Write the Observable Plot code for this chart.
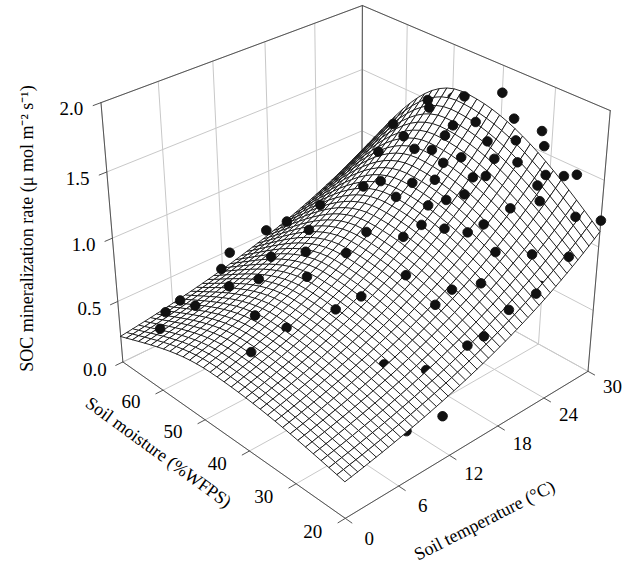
<!DOCTYPE html>
<html>
<head>
<meta charset="utf-8">
<script src="https://cdn.jsdelivr.net/npm/d3@7"></script>
<script src="https://cdn.jsdelivr.net/npm/@observablehq/plot@0.6"></script>
<style>
  body { margin: 0; background: #fff; }
</style>
</head>
<body>
<div id="chart"></div>
<script>
// axis ticks
const tempTicks = [0, 6, 12, 18, 24, 30];
const moistTicks = [20, 30, 40, 50, 60];
const rateTicks = [0, 0.5, 1.0, 1.5, 2.0];

// observations: soil temperature (°C), soil moisture (%WFPS), SOC mineralization rate
const obsT = [3,5,8,10,12,6,4,8,10,12,15,14,15,16,18,18,18,20,20,20,21,22,22,22,23,23,24,24,24,25,25,25,26,26,26,27,27,27,28,28,28,29,29,29,30,30,30,19,17,16,13,11,9,7,2,1,14,21,23,26,28,24,25,27,29,22,20,17,19,12,15,8,11,18,24,29,26,28,30,30,23,21,25,27,16,13,5,3,10,6];
const obsM = [65,62,60,66,58,50,40,35,30,25,22,45,55,62,40,30,58,35,45,22,50,38,28,20,42,32,36,48,24,40,30,52,35,45,20,38,28,50,34,42,22,36,46,26,32,40,20,26,22,30,40,48,55,45,55,62,30,32,54,56,52,42,35,45,30,45,52,46,38,68,65,22,20,22,22,24,26,28,50,25,36,40,46,32,36,52,30,45,40,68];
const obsR = [0.42,0.47,0.57,0.52,0.72,0.62,0.45,0.50,0.55,0.55,0.70,0.95,0.90,0.80,1.05,0.85,0.95,1.15,1.20,0.80,1.20,1.25,1.05,0.90,1.30,1.15,1.40,1.40,1.05,1.45,1.25,1.40,1.50,1.50,1.05,1.55,1.40,1.60,1.60,1.60,1.25,1.70,1.70,1.45,1.65,1.80,1.20,0.95,0.70,0.80,0.75,0.80,0.70,0.60,0.40,0.42,0.60,1.15,1.30,1.40,1.60,1.40,1.40,1.55,1.60,1.25,1.15,1.00,1.15,0.55,0.70,0.30,0.35,0.60,0.85,1.10,1.35,1.45,1.60,1.45,1.30,1.20,1.40,1.50,0.90,0.85,0.35,0.55,0.75,0.35];

// fitted surface: exponential in temperature, peaked in moisture
function rate(T, M) {
  const s = M < 48 ? 31 : 18.7;
  return 0.43 * Math.exp(0.0454 * T) * Math.exp(-0.5 * ((M - 48) / s) ** 2);
}

// perspective view
const az = 43 * Math.PI / 180, el = 31 * Math.PI / 180;
const dist = 5, focal = 1720, cx = 354, cy = 242, boxH = 0.88;
function project(T, M, v) {
  const x = T / 30 - 0.5, y = (M - 20) / 50 - 0.5, z = (v / 2 - 0.5) * boxH;
  const u = x * Math.cos(az) - y * Math.sin(az);
  const w = x * Math.sin(az) + y * Math.cos(az);
  const s = z * Math.cos(el) + w * Math.sin(el);
  const dd = w * Math.cos(el) - z * Math.sin(el);
  const k = focal / (dist + dd);
  return {x: cx + u * k, y: cy - s * k, depth: dd};
}

// surface cells + dots, painted back to front
const nT = 44, nM = 32;
const shapes = [];
for (let i = 0; i < nT; i++) {
  for (let j = 0; j < nM; j++) {
    const T0 = 30 * i / nT, T1 = 30 * (i + 1) / nT;
    const M0 = 20 + 50 * j / nM, M1 = 20 + 50 * (j + 1) / nM;
    const corners = [[T0, M0], [T1, M0], [T1, M1], [T0, M1]].map(([t, m]) => project(t, m, rate(t, m)));
    const c = project((T0 + T1) / 2, (M0 + M1) / 2, rate((T0 + T1) / 2, (M0 + M1) / 2));
    shapes.push({depth: c.depth, fill: "white", pts: corners});
  }
}
obsT.forEach((t, i) => {
  const c = project(t, obsM[i], obsR[i]);
  const pts = d3.range(14).map((a) => ({x: c.x + 4.8 * Math.cos(a / 14 * 2 * Math.PI), y: c.y + 4.8 * Math.sin(a / 14 * 2 * Math.PI)}));
  shapes.push({depth: c.depth - 0.01, fill: "#111", pts});
});
shapes.sort((a, b) => b.depth - a.depth);
const polyRows = [];
shapes.forEach((s, id) => s.pts.forEach((p) => polyRows.push({id, x: p.x, y: p.y, fill: s.fill})));

// grid lines on back walls and floor
const gridRows = [];
let gid = 0;
function seg(a, b) { gid++; gridRows.push({id: gid, ...a}, {id: gid, ...b}); }
tempTicks.forEach((t) => { seg(project(t, 20, 0), project(t, 70, 0)); seg(project(t, 70, 0), project(t, 70, 2)); });
moistTicks.concat([70]).forEach((m) => { seg(project(0, m, 0), project(30, m, 0)); seg(project(30, m, 0), project(30, m, 2)); });
rateTicks.forEach((r) => { seg(project(0, 70, r), project(30, 70, r)); seg(project(30, 70, r), project(30, 20, r)); });

// box edges and tick marks
const edgeRows = [];
let eid = 0;
function edge(a, b) { eid++; edgeRows.push({id: eid, ...a}, {id: eid, ...b}); }
edge(project(0, 70, 0), project(0, 70, 2));
edge(project(0, 70, 2), project(30, 70, 2));
edge(project(30, 70, 2), project(30, 20, 2));
edge(project(30, 70, 0), project(30, 70, 2));
edge(project(30, 20, 0), project(30, 20, 2));
edge(project(0, 70, 0), project(0, 20, 0));
edge(project(0, 20, 0), project(30, 20, 0));
rateTicks.forEach((r) => edge(project(0, 70, r), project(-0.8, 70, r)));
moistTicks.forEach((m) => edge(project(0, m, 0), project(-0.8, m, 0)));
tempTicks.forEach((t) => edge(project(t, 20, 0), project(t, 18.7, 0)));

const rateLabels = rateTicks.map((r) => ({...project(-1.8, 70, r), text: r.toFixed(1)}));
const moistLabels = moistTicks.map((m) => ({...project(-2.5, m, 0), text: String(m)}));
const tempLabels = tempTicks.map((t) => ({...project(t - 0.3, 14.8, 0), text: String(t)}));

const font = "Liberation Serif, Times New Roman, serif";
const chart = Plot.plot({
  width: 630,
  height: 565,
  margin: 0,
  x: {domain: [0, 630], range: [0, 630], axis: null},
  y: {domain: [0, 565], range: [0, 565], axis: null},
  color: {type: "identity"},
  style: {fontFamily: font, background: "white"},
  marks: [
    Plot.line(gridRows, {x: "x", y: "y", z: "id", stroke: "#c8c8c8", strokeWidth: 1}),
    Plot.line(edgeRows, {x: "x", y: "y", z: "id", stroke: "#555", strokeWidth: 1}),
    Plot.line(polyRows, {x: "x", y: "y", z: "id", fill: "fill", stroke: "#111", strokeWidth: 0.9, curve: "linear-closed"}),
    Plot.text(rateLabels, {x: "x", y: "y", text: "text", textAnchor: "end", fontSize: 19}),
    Plot.text(moistLabels, {x: "x", y: "y", text: "text", textAnchor: "end", fontSize: 19}),
    Plot.text(tempLabels, {x: "x", y: "y", text: "text", fontSize: 19}),
    Plot.text(["SOC mineralization rate (μ mol m⁻² s⁻¹)"], {x: 27, y: 228, rotate: -90, fontSize: 18}),
    Plot.text(["Soil moisture (%WFPS)"], {x: 158, y: 452, rotate: 36, fontSize: 18}),
    Plot.text(["Soil temperature (°C)"], {x: 484, y: 520, rotate: -27, fontSize: 18})
  ]
});
d3.select("#chart").append(() => chart);
</script>
</body>
</html>
